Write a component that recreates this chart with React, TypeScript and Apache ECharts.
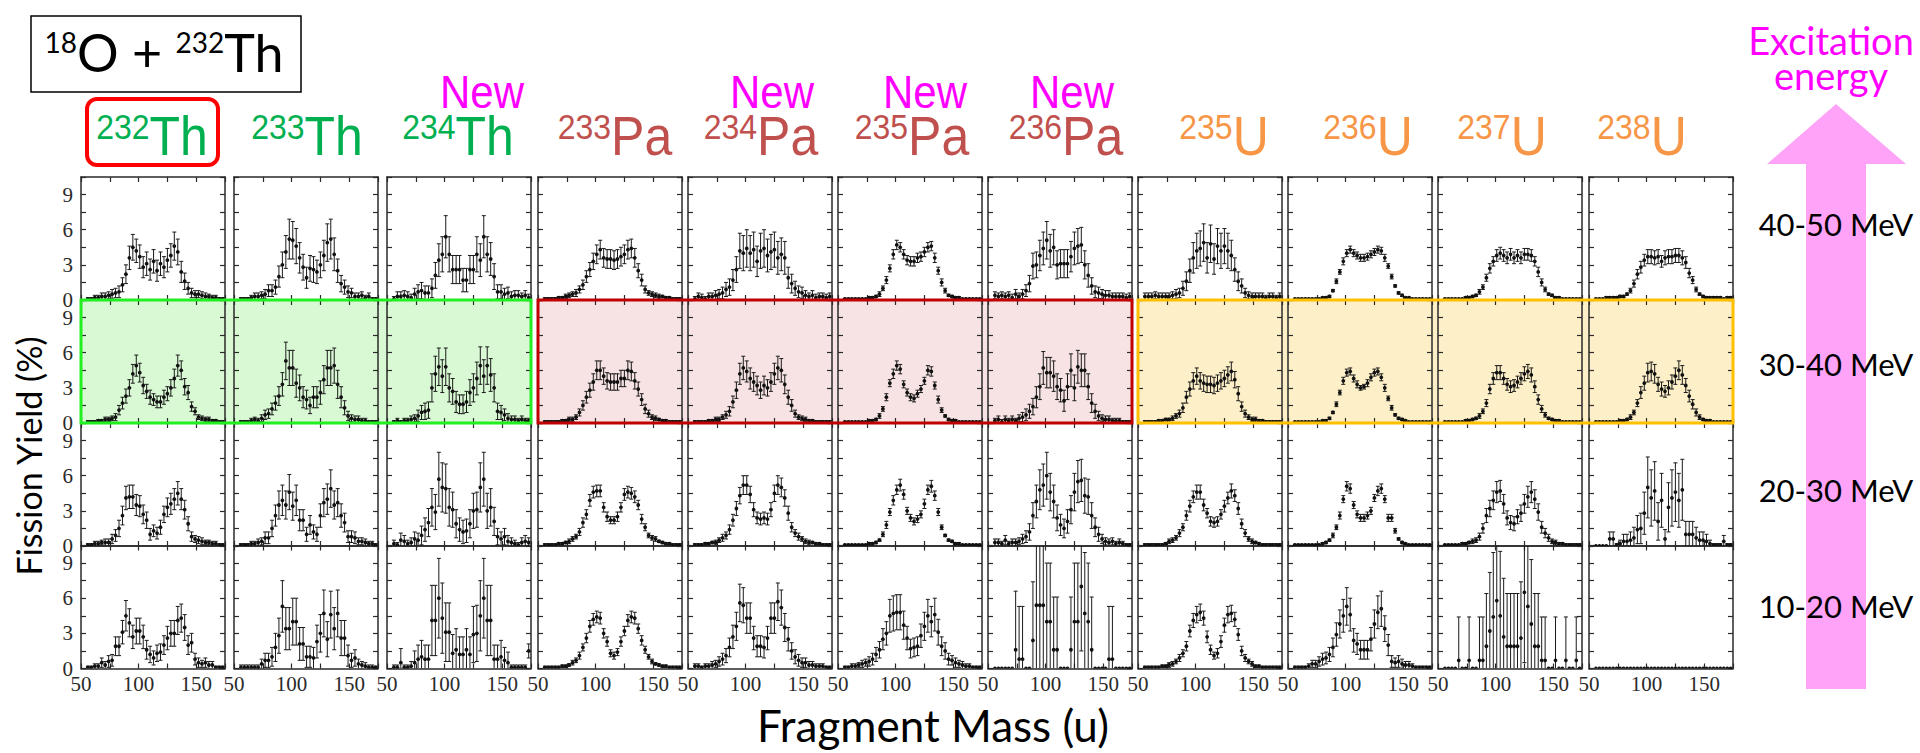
import React, { useEffect, useRef } from 'react';
import * as echarts from 'echarts';

// ---------------- data ----------------
const MASS = [56, 59, 62, 65, 68, 71, 74, 77, 80, 83, 86, 89, 92, 95, 98, 101, 104, 107, 110, 113,
  116, 119, 122, 125, 128, 131, 134, 137, 140, 143, 146, 149, 152, 155, 158, 161, 164, 167, 170, 173];

const ENERGY_BINS = ['40-50 MeV', '30-40 MeV', '20-30 MeV', '10-20 MeV'];
const NUC_MASS = ['232', '233', '234', '233', '234', '235', '236', '235', '236', '237', '238'];
const NUC_EL = ['Th', 'Th', 'Th', 'Pa', 'Pa', 'Pa', 'Pa', 'U', 'U', 'U', 'U'];
const IS_NEW = [false, false, true, false, true, true, true, false, false, false, false];
const X_TICK_LABELS = [50, 100, 150];
const Y_TICK_LABELS = [0, 3, 6, 9];

// rows: 40-50, 30-40, 20-30, 10-20 MeV
const Y_TH232 = [
  [0.1,0.1,0.2,0.2,0.3,0.3,0.4,0.5,0.6,0.7, 1.3,2.2,3.6,4.5,4.2,3.7,2.8,3.1,2.6,3.3, 2.5,3.1,2.8,3.4,3.8,4.6,4.1,2.4,1.6,1.0, 0.6,0.5,0.5,0.4,0.3,0.3,0.2,0.2,0.1,0.1],
  [0.1,0.1,0.1,0.2,0.2,0.3,0.3,0.4,0.5,1.1, 1.7,2.3,3.0,4.2,4.9,4.3,3.2,2.7,2.2,2.0, 1.8,1.8,2.2,2.5,3.0,3.8,4.9,4.5,3.1,2.6, 1.4,1.0,0.5,0.4,0.3,0.3,0.2,0.2,0.1,0.1],
  [0.1,0.1,0.2,0.2,0.3,0.3,0.3,0.6,0.9,1.5, 2.6,4.1,4.2,4.2,3.5,3.4,2.7,2.2,1.0,1.3, 1.1,1.6,2.7,3.3,3.6,4.0,4.5,4.0,3.1,1.9, 0.8,0.6,0.5,0.4,0.3,0.3,0.2,0.2,0.1,0.1],
  [0.1,0.1,0.2,0.2,0.5,0.3,0.6,0.7,1.9,1.9, 3.1,4.5,3.9,2.7,3.2,3.2,2.7,1.6,1.2,0.9, 1.3,1.4,2.0,2.6,3.0,3.0,4.1,4.3,3.5,2.0, 2.2,0.8,0.5,0.4,0.5,0.3,0.3,0.1,0.1,0.1],
];
const E_TH232 = [
  [0.1,0.1,0.2,0.2,0.3,0.3,0.3,0.4,0.4,0.5, 0.6,0.8,1.0,1.1,1.0,1.0,0.9,1.0,0.9,1.0, 0.9,1.0,0.9,1.0,1.0,1.2,1.1,0.9,0.7,0.5, 0.4,0.3,0.3,0.3,0.3,0.2,0.2,0.2,0.1,0.1],
  [0.1,0.1,0.1,0.1,0.1,0.2,0.2,0.2,0.3,0.4, 0.5,0.6,0.7,0.8,0.9,0.8,0.7,0.6,0.6,0.5, 0.5,0.5,0.6,0.6,0.7,0.8,0.9,0.8,0.7,0.6, 0.4,0.3,0.2,0.2,0.2,0.2,0.1,0.1,0.1,0.1],
  [0.1,0.1,0.2,0.2,0.2,0.3,0.3,0.4,0.5,0.7, 0.8,1.0,1.0,1.0,0.9,0.9,0.8,0.7,0.5,0.5, 0.5,0.6,0.7,0.8,0.9,0.9,1.0,0.9,0.8,0.6, 0.4,0.3,0.3,0.3,0.2,0.2,0.2,0.2,0.1,0.1],
  [0.1,0.1,0.2,0.2,0.4,0.3,0.5,0.5,0.8,0.8, 1.0,1.3,1.2,1.0,1.1,1.1,1.0,0.8,0.7,0.6, 0.7,0.7,0.8,1.0,1.1,1.1,1.2,1.2,1.1,0.8, 0.8,0.5,0.4,0.3,0.4,0.3,0.3,0.1,0.1,0.1],
];

const Y_TH233 = [
  [0.1,0.1,0.1,0.2,0.3,0.3,0.4,0.5,0.8,0.8, 1.1,2.0,3.0,4.1,5.2,5.1,4.6,3.6,2.8,1.9, 2.7,2.6,2.4,3.0,3.8,4.9,5.2,3.9,2.5,1.4, 1.1,0.7,0.6,0.3,0.3,0.4,0.2,0.3,0.1,0.1],
  [0.1,0.1,0.1,0.2,0.3,0.2,0.4,0.7,0.8,1.2, 1.7,2.3,3.3,5.3,4.7,4.7,3.4,3.0,2.2,2.0, 1.5,2.2,2.2,2.6,3.7,4.7,4.7,4.9,3.3,2.2, 1.3,0.6,0.4,0.3,0.3,0.2,0.2,0.1,0.1,0.1],
  [0.1,0.1,0.1,0.2,0.2,0.3,0.4,0.7,0.7,1.5, 2.6,3.5,3.9,3.5,4.6,3.4,3.9,2.2,2.2,1.0, 1.8,1.2,1.0,2.6,3.7,4.0,4.9,3.5,3.7,2.6, 2.0,0.8,0.8,0.7,0.4,0.4,0.3,0.2,0.2,0.1],
  [0.1,0.1,0.1,0.1,0.1,0.1,0.4,0.7,0.7,1.0, 1.8,2.8,5.3,3.4,3.4,4.0,4.0,2.1,2.1,1.0, 1.0,0.9,2.3,3.0,4.7,2.5,4.6,3.4,4.7,2.6, 2.6,1.1,0.7,0.9,0.4,0.3,0.2,0.1,0.1,0.1],
];
const E_TH233 = [
  [0.1,0.1,0.1,0.2,0.3,0.3,0.3,0.4,0.5,0.5, 0.6,0.9,1.1,1.4,1.7,1.6,1.5,1.3,1.1,0.9, 1.1,1.1,1.0,1.1,1.3,1.6,1.7,1.4,1.0,0.7, 0.6,0.5,0.4,0.3,0.3,0.3,0.2,0.3,0.1,0.1],
  [0.1,0.1,0.1,0.2,0.2,0.2,0.3,0.4,0.4,0.5, 0.6,0.8,1.0,1.6,1.5,1.5,1.2,1.1,0.9,0.8, 0.7,0.9,0.9,1.0,1.2,1.5,1.5,1.5,1.2,0.9, 0.6,0.4,0.3,0.3,0.3,0.2,0.2,0.1,0.1,0.1],
  [0.1,0.1,0.1,0.2,0.2,0.3,0.3,0.5,0.5,0.7, 0.9,1.2,1.3,1.2,1.5,1.2,1.3,0.9,0.9,0.6, 0.8,0.6,0.6,1.0,1.2,1.3,1.6,1.2,1.2,1.0, 0.8,0.5,0.5,0.5,0.3,0.3,0.3,0.2,0.2,0.1],
  [0.2,0.2,0.2,0.2,0.2,0.2,0.4,0.6,0.6,0.8, 1.2,1.5,2.2,1.8,1.8,2.0,2.0,1.4,1.4,0.9, 0.9,0.9,1.4,1.6,2.0,1.5,2.0,1.8,2.0,1.5, 1.5,0.9,0.6,0.7,0.4,0.3,0.3,0.2,0.2,0.1],
];

const Y_TH234 = [
  [0.1,0.3,0.3,0.4,0.3,0.2,0.5,0.7,0.8,0.6, 0.6,1.0,2.1,3.4,3.9,5.4,3.9,2.6,2.6,2.6, 1.7,1.7,2.6,2.6,3.9,3.4,5.4,3.9,3.5,2.0, 0.7,0.7,0.5,0.6,0.3,0.4,0.4,0.3,0.4,0.2],
  [0.1,0.2,0.1,0.2,0.2,0.3,0.4,0.6,0.9,1.0, 1.1,3.0,4.2,4.8,4.0,4.8,3.0,2.7,1.8,1.6, 1.6,1.8,2.6,3.0,3.8,4.9,4.0,4.9,4.1,3.0, 1.0,0.9,0.7,0.4,0.3,0.3,0.2,0.3,0.2,0.2],
  [0.2,0.1,0.5,0.4,0.2,0.3,0.6,0.5,0.9,1.4, 2.0,3.3,2.9,5.7,5.0,4.9,3.3,3.1,1.9,1.4, 1.2,1.3,1.9,3.0,3.1,5.0,5.7,3.0,3.3,2.1, 0.8,0.6,0.8,0.4,0.3,0.2,0.1,0.3,0.4,0.3],
  [0.1,0.1,0.5,0.1,0.1,0.2,0.5,0.8,1.0,0.8, 0.8,4.1,4.1,6.0,4.3,3.1,3.1,1.3,1.6,1.2, 1.2,1.6,1.2,2.9,3.0,4.5,6.0,4.1,4.1,0.8, 0.8,1.0,0.7,0.5,0.1,0.1,0.1,0.1,0.1,1.5],
];
const E_TH234 = [
  [0.2,0.4,0.4,0.4,0.4,0.3,0.5,0.6,0.7,0.6, 0.6,0.8,1.1,1.4,1.5,1.8,1.5,1.2,1.2,1.2, 1.0,1.0,1.2,1.2,1.5,1.4,1.8,1.5,1.4,1.1, 0.6,0.6,0.5,0.5,0.4,0.4,0.4,0.3,0.4,0.3],
  [0.1,0.2,0.1,0.2,0.2,0.3,0.3,0.5,0.6,0.7, 0.7,1.2,1.5,1.6,1.4,1.6,1.2,1.1,0.9,0.8, 0.8,0.9,1.1,1.2,1.4,1.6,1.4,1.6,1.4,1.2, 0.7,0.6,0.5,0.4,0.3,0.3,0.2,0.3,0.2,0.2],
  [0.3,0.2,0.6,0.5,0.3,0.4,0.6,0.6,0.8,1.0, 1.2,1.6,1.5,2.3,2.1,2.1,1.6,1.5,1.2,1.0, 1.0,1.0,1.2,1.5,1.5,2.1,2.3,1.5,1.6,1.2, 0.7,0.6,0.7,0.5,0.4,0.3,0.2,0.4,0.5,0.4],
  [0.2,0.2,1.2,0.2,0.2,0.4,1.0,1.2,1.4,1.2, 1.2,3.0,3.0,3.4,3.0,2.5,2.5,1.6,1.8,1.5, 1.5,1.8,1.5,2.4,2.4,3.0,3.4,3.0,3.0,1.2, 1.2,1.4,1.1,0.9,0.2,0.2,0.2,0.2,0.2,0.6],
];

const Y_PA233 = [
  [0.1,0.1,0.1,0.1,0.2,0.2,0.3,0.4,0.5,0.6, 0.9,1.3,2.0,2.6,3.3,3.9,4.3,3.6,3.5,3.5, 3.4,3.5,3.7,3.9,4.3,4.4,3.6,2.5,1.7,0.9, 0.6,0.5,0.4,0.3,0.3,0.2,0.2,0.1,0.1,0.1],
  [0.1,0.1,0.1,0.1,0.1,0.2,0.2,0.3,0.3,0.5, 0.9,1.5,2.2,2.8,3.5,4.5,4.5,4.0,3.6,3.5, 3.5,3.5,3.8,3.8,4.5,4.4,3.6,2.9,2.0,1.2, 0.8,0.5,0.4,0.3,0.2,0.2,0.1,0.1,0.1,0.1],
  [0.1,0.1,0.1,0.1,0.2,0.2,0.3,0.4,0.6,0.8, 1.2,2.0,2.7,3.9,4.6,4.7,4.7,3.3,2.5,2.2, 2.2,2.5,3.3,4.4,4.6,4.5,4.2,3.5,2.3,1.6, 0.9,0.7,0.6,0.4,0.3,0.2,0.2,0.1,0.1,0.1],
  [0.1,0.1,0.1,0.1,0.1,0.2,0.2,0.3,0.5,0.7, 1.1,1.8,2.6,3.6,4.2,4.4,4.3,3.0,2.3,1.3, 1.1,1.4,2.3,3.2,4.1,4.4,4.3,3.4,2.4,1.6, 1.0,0.6,0.4,0.3,0.2,0.2,0.1,0.1,0.1,0.1],
];
const E_PA233 = [
  [0.1,0.1,0.1,0.1,0.1,0.1,0.2,0.2,0.2,0.3, 0.3,0.4,0.5,0.6,0.7,0.8,0.8,0.8,0.8,0.8, 0.8,0.8,0.8,0.8,0.8,0.8,0.8,0.6,0.5,0.3, 0.2,0.2,0.2,0.2,0.1,0.1,0.1,0.1,0.1,0.1],
  [0.1,0.1,0.1,0.1,0.1,0.1,0.1,0.2,0.2,0.2, 0.3,0.4,0.5,0.6,0.7,0.8,0.8,0.7,0.7,0.7, 0.7,0.7,0.7,0.7,0.8,0.8,0.7,0.6,0.5,0.4, 0.3,0.2,0.2,0.1,0.1,0.1,0.1,0.1,0.1,0.1],
  [0.1,0.1,0.1,0.1,0.1,0.1,0.1,0.2,0.2,0.2, 0.3,0.4,0.4,0.5,0.5,0.5,0.5,0.4,0.4,0.3, 0.3,0.4,0.4,0.5,0.5,0.5,0.5,0.4,0.4,0.3, 0.2,0.2,0.2,0.1,0.1,0.1,0.1,0.1,0.1,0.1],
  [0.1,0.1,0.1,0.1,0.1,0.1,0.1,0.1,0.2,0.2, 0.3,0.3,0.4,0.5,0.5,0.5,0.5,0.4,0.4,0.3, 0.3,0.3,0.4,0.4,0.5,0.5,0.5,0.4,0.4,0.3, 0.2,0.2,0.1,0.1,0.1,0.1,0.1,0.1,0.1,0.1],
];

const Y_PA234 = [
  [0.1,0.3,0.2,0.1,0.3,0.3,0.4,0.5,0.6,0.9, 1.1,1.7,2.6,4.2,4.0,4.4,4.0,4.3,3.3,4.2, 4.4,3.8,4.1,4.3,3.6,3.9,3.6,1.9,1.4,1.0, 0.7,0.6,0.4,0.3,0.4,0.2,0.3,0.3,0.2,0.3],
  [0.1,0.1,0.1,0.1,0.2,0.2,0.3,0.3,0.5,0.7, 1.0,1.8,2.8,4.2,4.7,4.4,3.8,3.5,3.2,2.8, 3.2,3.0,3.5,4.2,4.7,4.5,3.3,2.2,1.5,0.8, 0.5,0.4,0.3,0.2,0.2,0.1,0.1,0.1,0.1,0.1],
  [0.1,0.1,0.1,0.2,0.2,0.3,0.3,0.5,0.7,0.9, 1.4,2.2,3.2,4.3,5.2,5.2,4.4,3.1,2.4,2.3, 2.4,2.3,3.1,4.5,5.2,5.0,4.1,2.8,1.6,1.1, 0.8,0.6,0.4,0.3,0.3,0.2,0.2,0.1,0.1,0.1],
  [0.2,0.2,0.1,0.2,0.2,0.3,0.4,0.6,0.8,1.1, 1.8,2.7,3.6,5.6,5.4,4.3,4.3,2.6,1.9,1.9, 1.8,2.6,4.3,4.3,5.7,5.2,3.5,2.5,1.5,1.0, 0.7,0.5,0.5,0.3,0.3,0.2,0.2,0.2,0.1,0.1],
];
const E_PA234 = [
  [0.2,0.3,0.3,0.2,0.3,0.3,0.4,0.4,0.5,0.6, 0.7,0.9,1.1,1.5,1.5,1.6,1.5,1.5,1.3,1.5, 1.6,1.4,1.5,1.5,1.4,1.4,1.4,0.9,0.8,0.6, 0.5,0.5,0.4,0.3,0.4,0.3,0.3,0.3,0.3,0.3],
  [0.1,0.1,0.1,0.1,0.1,0.1,0.2,0.2,0.2,0.3, 0.4,0.5,0.7,0.9,1.0,0.9,0.9,0.8,0.8,0.7, 0.8,0.7,0.8,0.9,1.0,1.0,0.8,0.6,0.5,0.3, 0.2,0.2,0.2,0.1,0.1,0.1,0.1,0.1,0.1,0.1],
  [0.1,0.1,0.1,0.1,0.1,0.1,0.2,0.2,0.3,0.3, 0.4,0.5,0.6,0.7,0.8,0.8,0.7,0.6,0.5,0.5, 0.5,0.5,0.6,0.7,0.8,0.8,0.7,0.6,0.4,0.3, 0.3,0.2,0.2,0.2,0.1,0.1,0.1,0.1,0.1,0.1],
  [0.2,0.2,0.1,0.2,0.2,0.3,0.3,0.4,0.5,0.6, 0.8,1.0,1.2,1.6,1.5,1.3,1.3,1.0,0.9,0.9, 0.9,1.0,1.3,1.3,1.6,1.5,1.2,1.0,0.7,0.6, 0.5,0.4,0.4,0.3,0.3,0.2,0.2,0.2,0.1,0.1],
];

const Y_PA235 = [
  [0.1,0.1,0.1,0.1,0.1,0.1,0.1,0.2,0.2,0.3, 0.5,1.0,1.7,2.7,3.9,4.7,4.5,3.9,3.4,3.3, 3.3,3.6,3.7,4.1,4.5,4.6,3.6,2.5,1.5,0.8, 0.4,0.3,0.2,0.2,0.1,0.1,0.1,0.1,0.1,0.1],
  [0.1,0.1,0.1,0.1,0.1,0.1,0.1,0.2,0.2,0.3, 0.6,1.2,2.2,3.4,4.2,4.9,4.6,3.3,2.6,2.2, 2.1,2.5,2.9,3.6,4.5,4.4,3.2,2.0,1.1,0.6, 0.3,0.2,0.2,0.1,0.1,0.1,0.1,0.1,0.1,0.1],
  [0.1,0.1,0.1,0.1,0.1,0.1,0.1,0.2,0.2,0.3, 0.5,1.0,1.8,2.9,3.9,4.8,5.2,4.4,3.0,2.4, 2.1,2.3,2.7,3.6,4.8,5.1,4.3,2.9,1.6,0.9, 0.5,0.4,0.2,0.2,0.1,0.1,0.1,0.1,0.1,0.1],
  [0.1,0.1,0.2,0.2,0.3,0.4,0.5,0.6,0.8,1.2, 1.6,2.5,3.0,4.5,4.7,4.8,4.8,3.7,2.6,1.7, 1.8,1.9,2.8,3.6,4.5,4.0,4.6,3.1,1.9,1.5, 0.8,0.7,0.5,0.4,0.3,0.2,0.2,0.1,0.1,0.1],
];
const E_PA235 = [
  [0.05,0.05,0.05,0.05,0.05,0.05,0.05,0.1,0.1,0.1, 0.2,0.2,0.3,0.3,0.4,0.4,0.4,0.4,0.4,0.4, 0.4,0.4,0.4,0.4,0.4,0.4,0.4,0.3,0.3,0.2, 0.1,0.1,0.1,0.1,0.05,0.05,0.05,0.05,0.05,0.05],
  [0.05,0.05,0.05,0.05,0.05,0.05,0.05,0.1,0.1,0.1, 0.2,0.2,0.3,0.3,0.4,0.4,0.4,0.3,0.3,0.3, 0.3,0.3,0.3,0.3,0.4,0.4,0.3,0.3,0.2,0.1, 0.1,0.1,0.1,0.05,0.05,0.05,0.05,0.05,0.05,0.05],
  [0.05,0.05,0.05,0.05,0.05,0.05,0.05,0.1,0.1,0.1, 0.1,0.2,0.3,0.3,0.4,0.4,0.5,0.4,0.3,0.3, 0.3,0.3,0.3,0.4,0.4,0.5,0.4,0.3,0.2,0.1, 0.1,0.1,0.1,0.1,0.05,0.05,0.05,0.05,0.05,0.05],
  [0.1,0.1,0.2,0.2,0.2,0.3,0.3,0.4,0.5,0.6, 0.7,0.9,1.0,1.4,1.5,1.5,1.5,1.2,1.0,0.8, 0.8,0.8,1.0,1.2,1.4,1.3,1.4,1.1,0.8,0.7, 0.5,0.4,0.4,0.3,0.3,0.2,0.2,0.1,0.1,0.1],
];

const Y_PA236 = [
  [0.4,0.3,0.4,0.3,0.4,0.2,0.5,0.3,0.5,0.8, 1.4,2.9,3.0,3.8,4.4,5.1,4.2,4.5,3.0,3.1, 3.1,3.1,3.7,4.4,4.6,4.7,3.0,2.1,1.2,0.7, 0.6,0.5,0.4,0.4,0.3,0.3,0.3,0.3,0.2,0.3],
  [0.2,0.3,0.1,0.3,0.2,0.3,0.2,0.4,0.5,0.7, 1.0,1.4,2.2,3.1,4.7,4.3,4.3,4.0,3.1,2.8, 1.9,3.1,4.5,3.0,4.8,4.5,4.5,3.1,1.7,1.0, 0.6,0.4,0.3,0.3,0.2,0.2,0.2,0.1,0.1,0.1],
  [0.3,0.3,0.2,0.5,0.2,0.3,0.3,0.4,0.6,0.8, 1.2,2.6,3.8,4.8,5.2,6.0,4.6,3.8,2.4,1.8, 1.5,2.1,3.1,4.6,5.5,5.6,4.3,4.2,2.6,1.6, 1.0,0.6,0.4,0.3,0.4,0.2,0.3,0.2,0.1,0.1],
  [0,0,0,0,0,0,1.6,0.8,0.8,0, 0,2.4,5.4,5.4,5.4,4.0,4.0,1.6,1.6,0, 0,0,1.6,4.0,4.0,7.0,4.7,4.0,1.6,0, 0,0,0,0.8,0.8,0,0,0,0,0],
];
const E_PA236 = [
  [0.3,0.3,0.3,0.3,0.3,0.3,0.4,0.3,0.4,0.5, 0.7,1.1,1.1,1.3,1.4,1.6,1.4,1.5,1.2,1.2, 1.2,1.2,1.3,1.4,1.5,1.5,1.2,1.0,0.7,0.5, 0.5,0.4,0.4,0.4,0.3,0.3,0.3,0.3,0.3,0.3],
  [0.2,0.3,0.2,0.3,0.2,0.3,0.2,0.3,0.4,0.5, 0.6,0.7,0.9,1.1,1.4,1.3,1.3,1.3,1.1,1.0, 0.9,1.1,1.4,1.1,1.4,1.4,1.4,1.1,0.8,0.6, 0.4,0.3,0.3,0.3,0.2,0.2,0.2,0.1,0.1,0.1],
  [0.3,0.3,0.2,0.4,0.2,0.3,0.3,0.3,0.4,0.5, 0.7,1.1,1.4,1.7,1.8,2.0,1.6,1.4,1.1,0.9, 0.8,1.0,1.2,1.6,1.8,1.8,1.5,1.5,1.1,0.8, 0.6,0.4,0.3,0.3,0.3,0.2,0.3,0.2,0.1,0.1],
  [0,0,0,0,0,0,5.0,4.5,4.5,0, 0,5.0,5.5,5.5,5.5,5.0,5.0,4.5,4.5,0, 0,0,4.5,5.0,5.0,5.5,5.2,5.0,4.5,0, 0,0,0,4.5,4.5,0,0,0,0,0],
];

const Y_U235 = [
  [0.3,0.3,0.3,0.4,0.3,0.3,0.3,0.3,0.4,0.5, 0.6,1.0,1.6,2.5,3.6,4.2,4.4,4.9,3.6,4.8, 3.5,4.6,4.2,4.6,4.2,3.8,2.6,1.6,1.2,0.6, 0.4,0.3,0.3,0.3,0.3,0.2,0.3,0.3,0.2,0.3],
  [0.1,0.1,0.1,0.1,0.2,0.2,0.3,0.3,0.4,0.6, 0.8,1.3,2.2,2.9,3.6,4.0,3.6,3.4,3.3,3.3, 3.2,3.4,3.6,3.8,4.1,4.4,3.7,2.5,1.4,0.8, 0.5,0.3,0.3,0.2,0.2,0.1,0.1,0.1,0.1,0.1],
  [0.1,0.1,0.1,0.1,0.1,0.1,0.2,0.4,0.5,0.7, 1.1,1.6,2.6,3.4,4.2,4.6,4.6,3.5,2.8,2.1, 2.0,2.1,2.7,3.4,4.1,4.7,4.3,3.2,1.9,1.1, 0.6,0.4,0.3,0.2,0.1,0.1,0.1,0.1,0.1,0.1],
  [0.1,0.1,0.1,0.1,0.1,0.2,0.2,0.3,0.4,0.6, 0.9,1.3,1.9,3.2,4.1,4.6,4.8,4.3,2.7,1.6, 1.1,1.3,2.3,3.7,4.6,4.7,4.2,2.9,1.5,0.9, 0.6,0.4,0.2,0.2,0.1,0.1,0.1,0.1,0.1,0.1],
];
const E_U235 = [
  [0.3,0.3,0.3,0.3,0.3,0.3,0.3,0.3,0.3,0.4, 0.4,0.6,0.8,1.0,1.3,1.5,1.5,1.6,1.3,1.6, 1.3,1.5,1.5,1.5,1.5,1.3,1.0,0.8,0.6,0.4, 0.3,0.3,0.3,0.3,0.3,0.2,0.3,0.3,0.2,0.3],
  [0.1,0.1,0.1,0.1,0.1,0.1,0.1,0.1,0.2,0.2, 0.3,0.4,0.5,0.6,0.7,0.7,0.7,0.7,0.7,0.7, 0.7,0.7,0.7,0.7,0.7,0.8,0.7,0.6,0.4,0.3, 0.2,0.2,0.2,0.1,0.1,0.1,0.1,0.1,0.1,0.1],
  [0.1,0.1,0.1,0.1,0.1,0.1,0.1,0.2,0.2,0.2, 0.3,0.3,0.4,0.5,0.5,0.6,0.6,0.5,0.4,0.4, 0.4,0.4,0.4,0.5,0.5,0.6,0.5,0.5,0.4,0.3, 0.2,0.2,0.1,0.1,0.1,0.1,0.1,0.1,0.1,0.1],
  [0.1,0.1,0.1,0.1,0.1,0.1,0.1,0.2,0.2,0.2, 0.3,0.3,0.4,0.5,0.6,0.7,0.7,0.6,0.5,0.4, 0.3,0.4,0.5,0.6,0.7,0.7,0.6,0.5,0.4,0.3, 0.2,0.2,0.1,0.1,0.1,0.1,0.1,0.1,0.1,0.1],
];

const Y_U236 = [
  [0.1,0.1,0.1,0.1,0.1,0.1,0.1,0.1,0.2,0.2, 0.3,0.8,1.6,2.4,3.3,4.0,4.3,4.0,3.8,3.6, 3.6,3.7,3.9,4.1,4.3,4.2,3.6,2.9,2.0,1.2, 0.6,0.4,0.2,0.2,0.1,0.1,0.1,0.1,0.1,0.1],
  [0.1,0.1,0.1,0.1,0.1,0.1,0.1,0.1,0.2,0.2, 0.4,0.9,1.6,2.6,3.6,4.3,4.4,3.8,3.3,3.0, 3.1,3.4,3.9,4.3,4.4,3.9,3.0,2.1,1.3,0.7, 0.4,0.3,0.2,0.1,0.1,0.1,0.1,0.1,0.1,0.1],
  [0.1,0.1,0.1,0.1,0.1,0.1,0.1,0.1,0.2,0.3, 0.5,0.9,1.6,2.6,4.0,5.1,4.9,3.5,2.7,2.4, 2.4,2.6,3.0,4.1,4.7,4.9,4.0,2.4,2.4,1.3, 0.6,0.3,0.2,0.1,0.1,0.1,0.1,0.1,0.1,0.1],
  [0.1,0.1,0.1,0.1,0.2,0.4,0.4,0.6,0.8,0.9, 1.2,1.8,2.9,3.8,4.5,5.3,4.6,2.4,2.1,1.6, 1.6,1.6,2.5,3.8,4.8,5.1,3.4,2.0,0.6,0.5, 0.6,0.4,0.3,0.3,0.2,0.1,0.1,0.1,0.1,0.1],
];
const E_U236 = [
  [0.05,0.05,0.05,0.05,0.05,0.05,0.05,0.05,0.05,0.1, 0.1,0.1,0.2,0.2,0.3,0.3,0.3,0.3,0.3,0.3, 0.3,0.3,0.3,0.3,0.3,0.3,0.3,0.2,0.2,0.1, 0.1,0.1,0.05,0.05,0.05,0.05,0.05,0.05,0.05,0.05],
  [0.05,0.05,0.05,0.05,0.05,0.05,0.05,0.05,0.05,0.1, 0.1,0.1,0.2,0.2,0.3,0.3,0.3,0.3,0.3,0.2, 0.2,0.3,0.3,0.3,0.3,0.3,0.3,0.2,0.2,0.1, 0.1,0.1,0.05,0.05,0.05,0.05,0.05,0.05,0.05,0.05],
  [0.05,0.05,0.05,0.05,0.05,0.05,0.05,0.05,0.1,0.1, 0.1,0.2,0.2,0.3,0.3,0.4,0.4,0.3,0.3,0.3, 0.3,0.3,0.3,0.3,0.4,0.4,0.3,0.3,0.3,0.2, 0.1,0.1,0.05,0.05,0.05,0.05,0.05,0.05,0.05,0.05],
  [0.1,0.1,0.1,0.1,0.2,0.3,0.3,0.4,0.5,0.5, 0.6,0.8,1.0,1.2,1.4,1.6,1.4,1.0,0.9,0.8, 0.8,0.8,1.0,1.2,1.4,1.5,1.1,0.9,0.5,0.4, 0.5,0.4,0.3,0.3,0.2,0.1,0.1,0.1,0.1,0.1],
];

const Y_U237 = [
  [0.1,0.1,0.1,0.1,0.1,0.1,0.2,0.2,0.3,0.4, 0.7,1.1,1.9,2.7,3.3,3.8,4.0,3.8,3.6,3.9, 3.6,3.8,3.6,3.9,3.9,3.8,3.3,2.4,1.5,0.9, 0.5,0.4,0.2,0.2,0.1,0.1,0.1,0.1,0.1,0.1],
  [0.1,0.1,0.1,0.1,0.1,0.1,0.2,0.2,0.3,0.4, 0.6,1.0,1.7,2.9,3.8,4.3,4.3,3.8,3.3,3.1, 3.2,3.5,3.8,4.2,4.4,4.1,3.1,2.0,1.2,0.7, 0.4,0.3,0.2,0.2,0.1,0.1,0.1,0.1,0.1,0.1],
  [0.1,0.1,0.1,0.1,0.1,0.2,0.2,0.3,0.4,0.5, 0.8,1.5,2.6,3.2,3.9,4.6,4.7,3.6,2.4,2.0, 1.9,2.5,2.8,3.6,4.2,4.6,4.0,2.9,1.6,1.1, 0.7,0.4,0.3,0.2,0.2,0.1,0.1,0.1,0.1,0.1],
  [0,0,0,0,0.7,0,0,0.7,0,0, 0.7,0.7,1.9,3.2,4.4,5.8,4.5,2.7,1.9,1.9, 1.9,1.9,2.6,6.5,5.3,3.8,1.9,1.9,0.7,0.7, 0,0,0.7,0,0,0.7,0,0,0.7,0],
];
const E_U237 = [
  [0.05,0.05,0.05,0.05,0.05,0.05,0.1,0.1,0.1,0.1, 0.2,0.2,0.3,0.4,0.4,0.5,0.5,0.5,0.5,0.5, 0.5,0.5,0.5,0.5,0.5,0.5,0.4,0.4,0.3,0.2, 0.1,0.1,0.1,0.1,0.05,0.05,0.05,0.05,0.05,0.05],
  [0.05,0.05,0.05,0.05,0.05,0.05,0.1,0.1,0.1,0.1, 0.2,0.2,0.3,0.4,0.5,0.6,0.6,0.5,0.5,0.5, 0.5,0.5,0.5,0.6,0.6,0.6,0.5,0.4,0.3,0.2, 0.1,0.1,0.1,0.1,0.05,0.05,0.05,0.05,0.05,0.05],
  [0.05,0.05,0.05,0.05,0.05,0.1,0.1,0.1,0.2,0.2, 0.3,0.4,0.6,0.7,0.8,0.9,0.9,0.8,0.6,0.6, 0.6,0.6,0.7,0.8,0.9,0.9,0.8,0.7,0.5,0.4, 0.3,0.2,0.2,0.1,0.1,0.1,0.1,0.1,0.1,0.1],
  [0,0,0,0,3.7,0,0,3.7,0,0, 3.7,3.7,4.5,5.0,5.5,6.0,5.5,5.0,4.5,4.5, 4.5,4.5,4.8,6.0,5.8,5.5,4.5,4.5,3.7,3.7, 0,0,3.7,0,0,3.7,0,0,3.7,0],
];

const Y_U238 = [
  [0.1,0.1,0.1,0.2,0.2,0.2,0.2,0.3,0.3,0.5, 0.8,1.4,2.2,2.8,3.4,3.7,3.7,3.6,3.7,3.3, 3.6,3.7,3.7,3.8,3.8,3.6,3.2,2.3,1.7,0.9, 0.5,0.3,0.2,0.2,0.2,0.2,0.2,0.1,0.2,0.2],
  [0.1,0.1,0.1,0.1,0.1,0.1,0.1,0.2,0.2,0.3, 0.5,0.9,1.7,2.6,3.4,4.3,4.4,4.2,3.3,2.9, 2.7,3.0,3.5,4.0,4.5,4.1,3.2,2.3,1.6,0.9, 0.5,0.3,0.2,0.2,0.1,0.1,0.1,0.1,0.1,0.1],
  [0,0,0,0,0.6,0.6,0.1,0.2,0.4,0.4, 0.5,0.7,1.4,1.5,2.8,5.0,4.1,4.7,2.1,3.9, 0.6,3.3,4.1,4.6,3.9,4.8,1.0,1.0,1.0,0.7, 0.5,0.5,0.4,0.2,0.1,0.1,0.1,0.4,0.1,0.1],
  [0,0,0,0,0,0,0,0,0,0, 0,0,0,0,0,0,0,0,0,0, 0,0,0,0,0,0,0,0,0,0, 0,0,0,0,0,0,0,0,0,0],
];
const E_U238 = [
  [0.05,0.05,0.05,0.1,0.1,0.1,0.1,0.1,0.1,0.1, 0.2,0.3,0.4,0.5,0.5,0.6,0.6,0.6,0.6,0.5, 0.6,0.6,0.6,0.6,0.6,0.6,0.5,0.4,0.3,0.2, 0.1,0.1,0.1,0.1,0.1,0.1,0.1,0.05,0.1,0.1],
  [0.05,0.05,0.05,0.05,0.05,0.05,0.05,0.1,0.1,0.1, 0.2,0.2,0.3,0.5,0.6,0.8,0.8,0.8,0.6,0.6, 0.5,0.6,0.6,0.7,0.8,0.8,0.6,0.5,0.4,0.3, 0.2,0.1,0.1,0.1,0.05,0.05,0.05,0.05,0.05,0.05],
  [0,0,0,0,0.6,0.6,0.1,0.3,0.6,0.6, 0.7,0.9,1.2,1.3,1.8,2.6,2.4,2.5,1.6,2.3, 0.8,2.1,2.4,2.5,2.3,2.6,1.1,1.1,1.1,0.9, 0.7,0.7,0.6,0.3,0.1,0.1,0.1,0.5,0.1,0.1],
  [0,0,0,0,0,0,0,0,0,0, 0,0,0,0,0,0,0,0,0,0, 0,0,0,0,0,0,0,0,0,0, 0,0,0,0,0,0,0,0,0,0],
];

const YIELDS = [Y_TH232, Y_TH233, Y_TH234, Y_PA233, Y_PA234, Y_PA235, Y_PA236, Y_U235, Y_U236, Y_U237, Y_U238];
const ERRORS = [E_TH232, E_TH233, E_TH234, E_PA233, E_PA234, E_PA235, E_PA236, E_U235, E_U236, E_U237, E_U238];

// ---------------- layout / style ----------------
const X_MIN = 50, X_MAX = 175, X_INT = 25;
const Y_MIN = 0, Y_MAX = 10.5, Y_INT = 1.5;
const COL_LEFT = [81, 234, 387, 538, 688, 838, 988, 1138, 1288, 1438, 1589];
const PANEL_W = 144;
const ROW_TOP = [177, 300, 423, 545.5];
const PANEL_H = 123;
const HEADER_X = [152, 307, 458, 615, 761, 912, 1066, 1224, 1368, 1502, 1642];
const NEW_X: Record<number, number> = { 2: 482, 4: 772, 5: 925, 6: 1072 };
const EL_COLOR: Record<string, string> = { Th: '#00b050', Pa: '#c0504d', U: '#f79646' };
const HIGHLIGHTS = [
  { c0: 0, c1: 2, fill: '#d9f9d4', stroke: '#22ee22' },
  { c0: 3, c1: 6, fill: '#f7e3e3', stroke: '#c00000' },
  { c0: 7, c1: 10, fill: '#fdefc8', stroke: '#ffc000' },
];
const HIGHLIGHT_ROW = 1;
const ROW_LABEL_Y = [224, 364, 490, 606];
const AXIS_COLOR = '#2a2a2a';
const SERIF = '"Liberation Serif", "Times New Roman", serif';
const ARIAL = '"Liberation Sans", Arial, sans-serif';
const CALIBRI = 'Lato, "Open Sans", sans-serif';

let measureCtx: CanvasRenderingContext2D | null = null;
function measure(text: string, size: number, family: string): number {
  if (!measureCtx) measureCtx = document.createElement('canvas').getContext('2d');
  if (!measureCtx) return text.length * size * 0.55;
  measureCtx.font = `${size}px ${family}`;
  return measureCtx.measureText(text).width;
}

type Frag = { t: string; size: number; base: number };
function composeText(frags: Frag[], cx: number, family: string, color: string, z: number, scaleY = 1) {
  const widths = frags.map((f) => measure(f.t, f.size, family));
  const total = widths.reduce((a, b) => a + b, 0);
  let x = cx - total / 2;
  return frags.map((f, i) => {
    const el = {
      type: 'text',
      x,
      y: f.base - 0.35 * f.size,
      originX: 0,
      originY: 0.35 * f.size,
      scaleY,
      z,
      silent: true,
      style: {
        text: f.t,
        font: `${f.size}px ${family}`,
        fill: color,
        textAlign: 'left',
        textVerticalAlign: 'middle',
      },
    };
    x += widths[i];
    return el;
  });
}

function renderItem(_params: any, api: any) {
  const m = api.value(0);
  const y = api.value(1);
  const e = api.value(2);
  const p = api.coord([m, y]);
  const children: any[] = [];
  if (e > 0) {
    const lo = Math.max(Y_MIN, y - e);
    const hi = Math.min(Y_MAX, y + e);
    const pl = api.coord([m, lo]);
    const ph = api.coord([m, hi]);
    children.push({
      type: 'line',
      shape: { x1: p[0], y1: pl[1], x2: p[0], y2: ph[1] },
      style: { stroke: '#1a1a1a', lineWidth: 1 },
    });
    if (y + e < Y_MAX) {
      children.push({ type: 'line', shape: { x1: p[0] - 2, y1: ph[1], x2: p[0] + 2, y2: ph[1] }, style: { stroke: '#1a1a1a', lineWidth: 1 } });
    }
    if (y - e > Y_MIN) {
      children.push({ type: 'line', shape: { x1: p[0] - 2, y1: pl[1], x2: p[0] + 2, y2: pl[1] }, style: { stroke: '#1a1a1a', lineWidth: 1 } });
    }
  }
  children.push({ type: 'circle', shape: { cx: p[0], cy: p[1], r: 1.9 }, style: { fill: '#111' } });
  return { type: 'group', children };
}

function buildOption() {
  const grids: any[] = [];
  const xAxes: any[] = [];
  const yAxes: any[] = [];
  const series: any[] = [];
  const axisLine = { show: true, onZero: false, lineStyle: { color: AXIS_COLOR, width: 1.5 } };
  const tick = { show: true, inside: true, length: 5, lineStyle: { color: AXIS_COLOR, width: 1.2 } };
  let g = 0;
  for (let c = 0; c < NUC_MASS.length; c++) {
    for (let r = 0; r < ENERGY_BINS.length; r++) {
      grids.push({ left: COL_LEFT[c], top: ROW_TOP[r], width: PANEL_W, height: PANEL_H, show: false });
      const xBase = {
        type: 'value', gridIndex: g, min: X_MIN, max: X_MAX, interval: X_INT,
        axisLine, axisTick: tick, splitLine: { show: false },
      };
      xAxes.push({
        ...xBase, position: 'bottom',
        axisLabel: {
          show: r === ENERGY_BINS.length - 1, margin: 5, fontFamily: SERIF, fontSize: 21, color: AXIS_COLOR,
          showMinLabel: true,
          formatter: (v: number) => (X_TICK_LABELS.includes(v) ? String(v) : ''),
        },
      });
      xAxes.push({ ...xBase, position: 'top', axisLabel: { show: false } });
      const yBase = {
        type: 'value', gridIndex: g, min: Y_MIN, max: Y_MAX, interval: Y_INT,
        axisLine, axisTick: tick, splitLine: { show: false },
      };
      yAxes.push({
        ...yBase, position: 'left',
        axisLabel: {
          show: c === 0, margin: 8, fontFamily: SERIF, fontSize: 21, lineHeight: 15, color: AXIS_COLOR,
          showMinLabel: true,
          formatter: (v: number) => (Y_TICK_LABELS.includes(v) ? String(v) : ''),
        },
      });
      yAxes.push({ ...yBase, position: 'right', axisLabel: { show: false } });
      const ys = YIELDS[c][r];
      const es = ERRORS[c][r];
      series.push({
        type: 'custom',
        name: `${NUC_MASS[c]}${NUC_EL[c]} ${ENERGY_BINS[r]}`,
        xAxisIndex: g * 2,
        yAxisIndex: g * 2,
        dimensions: ['mass', 'yield', 'err'],
        encode: { x: 0, y: 1 },
        data: MASS.map((m, i) => [m, ys[i], es[i]]),
        renderItem,
        clip: true,
        silent: true,
        z: 5,
      });
      g++;
    }
  }

  const graphic: any[] = [];
  // highlighted 30-40 MeV row
  HIGHLIGHTS.forEach((h) => {
    const x0 = COL_LEFT[h.c0];
    const x1 = COL_LEFT[h.c1] + PANEL_W;
    const y0 = ROW_TOP[HIGHLIGHT_ROW];
    graphic.push({ type: 'rect', z: -1, silent: true, shape: { x: x0, y: y0, width: x1 - x0, height: PANEL_H }, style: { fill: h.fill } });
    graphic.push({ type: 'rect', z: 20, silent: true, shape: { x: x0, y: y0, width: x1 - x0, height: PANEL_H }, style: { fill: 'none', stroke: h.stroke, lineWidth: 3 } });
  });

  // title box
  graphic.push({ type: 'rect', z: 1, silent: true, shape: { x: 31, y: 16, width: 270, height: 76 }, style: { fill: '#fff', stroke: '#000', lineWidth: 1.5 } });
  graphic.push(...composeText([
    { t: '18', size: 28, base: 52 },
    { t: 'O + ', size: 52, base: 70 },
    { t: '232', size: 28, base: 52 },
    { t: 'Th', size: 52, base: 70 },
  ], 164, CALIBRI, '#000', 2));

  // column headers
  for (let c = 0; c < NUC_MASS.length; c++) {
    graphic.push(...composeText([
      { t: NUC_MASS[c], size: 32, base: 139 },
      { t: NUC_EL[c], size: 50, base: 155 },
    ], HEADER_X[c], ARIAL, EL_COLOR[NUC_EL[c]], 2, 1.1));
    if (IS_NEW[c]) {
      graphic.push(...composeText([{ t: 'New', size: 42, base: 108 }], NEW_X[c], ARIAL, '#ff00ff', 2, 1.08));
    }
  }
  graphic.push({ type: 'rect', z: 3, silent: true, shape: { x: 87, y: 99, width: 131, height: 66, r: 10 }, style: { fill: 'none', stroke: '#ff0000', lineWidth: 4 } });

  // excitation energy arrow
  graphic.push({
    type: 'polygon', z: 1, silent: true,
    shape: { points: [[1836, 104], [1906, 164], [1866, 164], [1866, 689], [1806, 689], [1806, 164], [1767, 164]] },
    style: { fill: '#ffa3f8' },
  });
  graphic.push(...composeText([{ t: 'Excitation', size: 38, base: 53 }], 1831, CALIBRI, '#ff00ff', 3));
  graphic.push(...composeText([{ t: 'energy', size: 38, base: 88 }], 1831, CALIBRI, '#ff00ff', 3));
  ENERGY_BINS.forEach((lab, r) => {
    graphic.push({
      type: 'text', z: 3, silent: true, x: 1836, y: ROW_LABEL_Y[r],
      style: { text: lab, font: `31px ${CALIBRI}`, fill: '#000', textAlign: 'center', textVerticalAlign: 'middle' },
    });
  });

  // axis titles
  graphic.push({
    type: 'text', z: 3, silent: true, x: 28, y: 456, rotation: Math.PI / 2,
    style: { text: 'Fission Yield (%)', font: `34px ${CALIBRI}`, fill: '#000', textAlign: 'center', textVerticalAlign: 'middle' },
  });
  graphic.push({
    type: 'text', z: 3, silent: true, x: 933, y: 725,
    style: { text: 'Fragment Mass (u)', font: `44px ${CALIBRI}`, fill: '#000', textAlign: 'center', textVerticalAlign: 'middle' },
  });

  return {
    animation: false,
    backgroundColor: '#fff',
    grid: grids,
    xAxis: xAxes,
    yAxis: yAxes,
    series,
    graphic: { elements: graphic },
  };
}

export default function App() {
  const ref = useRef<HTMLDivElement>(null);
  useEffect(() => {
    if (!ref.current) return;
    const chart = echarts.init(ref.current, null, { renderer: 'svg' });
    chart.setOption(buildOption() as any);
    return () => chart.dispose();
  }, []);
  return (
    <div
      ref={ref}
      style={{ position: 'fixed', left: 0, top: 0, width: 1920, height: 753, background: '#fff' }}
    />
  );
}
